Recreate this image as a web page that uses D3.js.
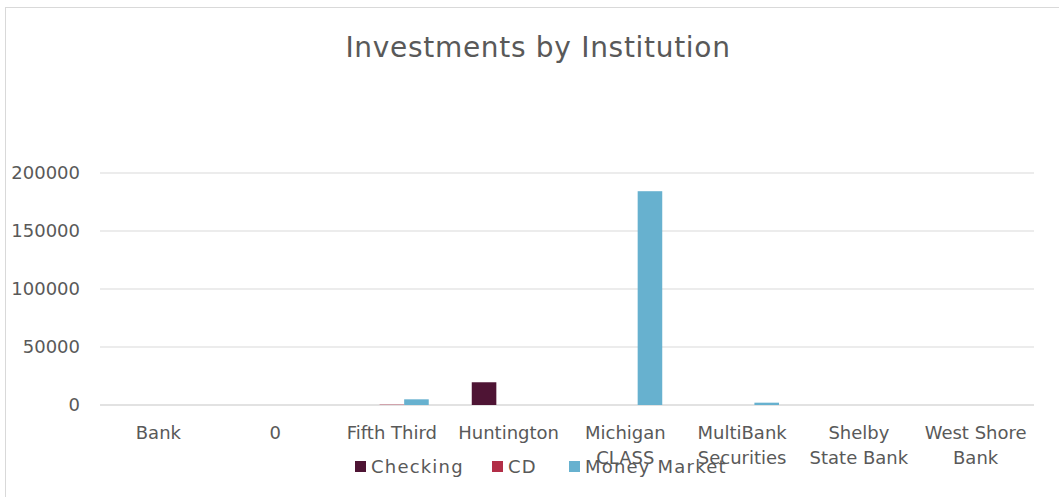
<!DOCTYPE html>
<html>
<head>
<meta charset="utf-8">
<script src="https://cdn.jsdelivr.net/npm/d3@7"></script>
<style>
  body { margin: 0; background: #fff; }
  svg { display: block; font-family: "Century Gothic", "DejaVu Sans", sans-serif; }
</style>
</head>
<body>
<div id="chart"></div>
<script>
const categories = ["Bank", "0", "Fifth Third", "Huntington", "Michigan CLASS", "MultiBank Securities", "Shelby State Bank", "West Shore Bank"];
// label lines as they wrap under the axis
const catLines = [["Bank"], ["0"], ["Fifth Third"], ["Huntington"], ["Michigan", "CLASS"], ["MultiBank", "Securities"], ["Shelby", "State Bank"], ["West Shore", "Bank"]];
const seriesNames = ["Checking", "CD", "Money Market"];
const checking    = [0, 0, 0, 19600, 0, 0, 0, 0];
const cd          = [0, 0, 300, 0, 0, 0, 0, 0];
const moneyMarket = [0, 0, 4900, 0, 184300, 2000, 0, 0];
const yTicks = [0, 50000, 100000, 150000, 200000];
const colors = ["#4e1434", "#b22e47", "#67b1cf"];

const width = 1059, height = 497;
const plot = {left: 100, right: 1034, top: 173, bottom: 405};

const svg = d3.select("#chart").append("svg")
    .attr("width", width)
    .attr("height", height);

// chart frame
svg.append("rect")
    .attr("x", 5.5).attr("y", 7.5)
    .attr("width", 1070).attr("height", 510)
    .attr("fill", "#fff")
    .attr("stroke", "#d9d9d9");

svg.append("text")
    .attr("x", 538).attr("y", 57)
    .attr("text-anchor", "middle")
    .attr("font-size", 28)
    .attr("letter-spacing", 0.7)
    .attr("fill", "#595959")
    .text("Investments by Institution");

let x0 = d3.scaleBand().domain(categories).range([plot.left, plot.right]);
// Excel-style gap width 175%
let bw = x0.bandwidth() / 4.75;
let x1 = d3.scaleBand().domain(seriesNames).range([0, bw * 3]);
let y = d3.scaleLinear().domain([0, 200000]).range([plot.bottom, plot.top]);

//gridlines
svg.append("g").selectAll("line")
    .data(yTicks)
    .join("line")
    .attr("x1", plot.left).attr("x2", plot.right)
    .attr("y1", d => y(d)).attr("y2", d => y(d))
    .attr("stroke", "#d9d9d9")
    .attr("stroke-width", d => d === 0 ? 1.5 : 1);

//y axis labels
let yAxis = svg.append("g")
    .attr("transform", `translate(${plot.left - 20},0)`)
    .call(d3.axisLeft(y).tickValues(yTicks).tickFormat(d3.format("d")).tickSize(0).tickPadding(0));
yAxis.select(".domain").remove();
yAxis.selectAll("text")
    .attr("font-size", 18)
    .attr("font-family", "\"Century Gothic\", \"DejaVu Sans\", sans-serif")
    .attr("fill", "#595959");

//bars
const seriesData = [checking, cd, moneyMarket];
seriesData.forEach((vals, si) => {
    svg.append("g").selectAll("rect")
        .data(vals.map((v, i) => ({cat: categories[i], v: v})))
        .join("rect")
        .attr("x", d => x0(d.cat) + (x0.bandwidth() - bw * 3) / 2 + x1(seriesNames[si]))
        .attr("width", x1.bandwidth())
        .attr("y", d => y(d.v))
        .attr("height", d => y(0) - y(d.v))
        .attr("fill", colors[si]);
});

//category labels
let catG = svg.append("g").selectAll("text")
    .data(catLines.map((l, i) => ({cat: categories[i], lines: l})))
    .join("text")
    .attr("x", d => x0(d.cat) + x0.bandwidth() / 2)
    .attr("y", 439)
    .attr("text-anchor", "middle")
    .attr("font-size", 18)
    .attr("fill", "#595959");
catG.selectAll("tspan")
    .data(d => d.lines)
    .join("tspan")
    .attr("x", function() { return d3.select(this.parentNode).attr("x"); })
    .attr("dy", (d, i) => i === 0 ? 0 : 25)
    .text(d => d);

//legend
const legendX = [355, 492, 569];
let legend = svg.append("g").selectAll("g")
    .data(seriesNames)
    .join("g")
    .attr("transform", (d, i) => `translate(${legendX[i]},461)`);
legend.append("rect")
    .attr("width", 11).attr("height", 11)
    .attr("fill", (d, i) => colors[i]);
legend.append("text")
    .attr("x", 16).attr("y", 12)
    .attr("font-size", 18)
    .attr("letter-spacing", 1.2)
    .attr("fill", "#595959")
    .text(d => d);
</script>
</body>
</html>
